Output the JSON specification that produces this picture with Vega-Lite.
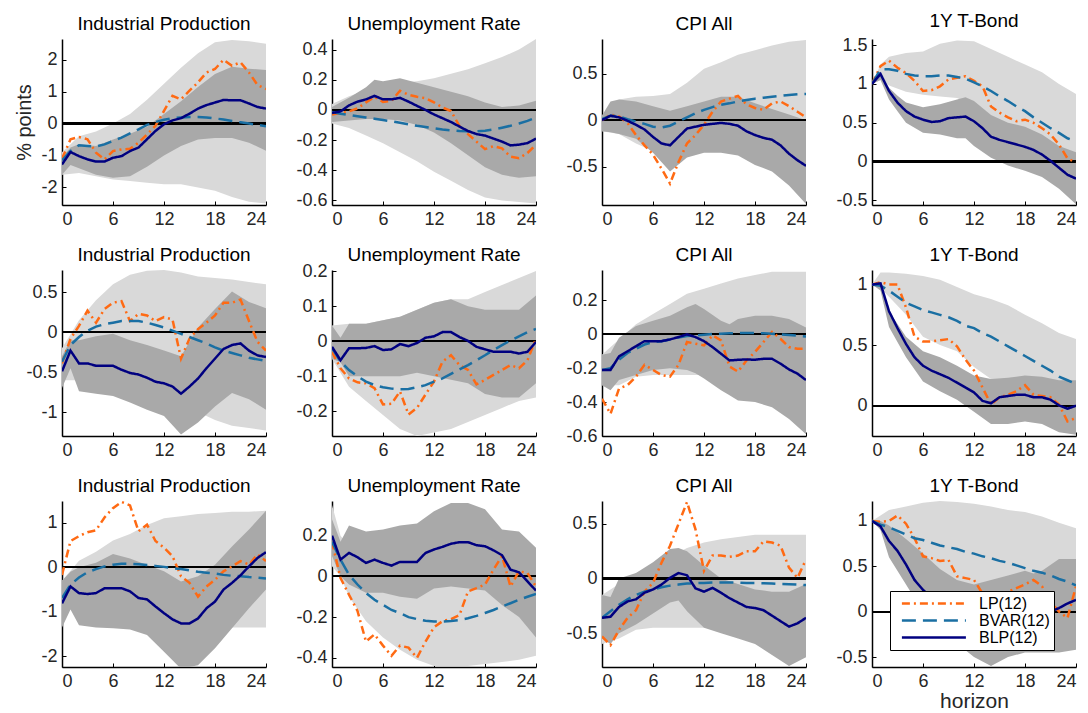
{
"$schema":"https://vega.github.io/schema/vega-lite/v6.json",
"background":"white",
"padding":{"left":14,"top":12,"right":5,"bottom":0},
"config":{
 "font":"Liberation Sans",
 "view":{"stroke":null},
 "locale":{"number":{"decimal":".","thousands":",","grouping":[3],"currency":["$",""],"minus":"-"}},
 "axis":{"domainColor":"black","domainWidth":1.5,"tickColor":"black","tickSize":-4,"tickWidth":1,"labelFontSize":18,"labelColor":"#262626","grid":false,"labelPadding":9,"labelOverlap":false,"titleFontWeight":"normal","titleColor":"#262626"},
 "title":{"fontSize":19,"fontWeight":"normal","color":"black","offset":5,"anchor":"middle"}
},
"spacing":{"row":65,"column":66},
"bounds":"flush",
"columns":4,
"resolve":{"scale":{"color":"independent","strokeDash":"independent"},"legend":{"color":"independent","strokeDash":"independent"}},
"data":{"values":[
{"p":1,"h":0,"LP":-1.1,"BVAR":-1.15,"BLP":-1.28,"a1":-1.6,"a2":-0.9,"d1":-1.6,"d2":-1.05},
{"p":1,"h":1,"LP":-0.49,"BVAR":-0.86,"BLP":-0.89,"d1":-1.3,"d2":-0.75},
{"p":1,"h":2,"LP":-0.42,"BVAR":-0.68,"BLP":-1.02,"a1":-1.55,"a2":-0.4,"d1":-1.4,"d2":-0.65},
{"p":1,"h":3,"LP":-0.49,"BVAR":-0.7,"BLP":-1.12},
{"p":1,"h":4,"LP":-0.91,"BVAR":-0.72,"BLP":-1.19,"a1":-1.65,"a2":-0.25,"d1":-1.6,"d2":-0.7},
{"p":1,"h":5,"LP":-1.12,"BVAR":-0.65,"BLP":-1.19},
{"p":1,"h":6,"LP":-0.86,"BVAR":-0.54,"BLP":-1.07,"a1":-1.75,"a2":0.0,"d1":-1.7,"d2":-0.5},
{"p":1,"h":7,"LP":-0.81,"BVAR":-0.44,"BLP":-1.02},
{"p":1,"h":8,"LP":-0.79,"BVAR":-0.31,"BLP":-0.86,"a1":-1.8,"a2":0.3,"d1":-1.65,"d2":-0.32},
{"p":1,"h":9,"LP":-0.6,"BVAR":-0.18,"BLP":-0.75},
{"p":1,"h":10,"LP":-0.34,"BVAR":-0.04,"BLP":-0.49,"a1":-1.85,"a2":0.75,"d1":-1.35,"d2":-0.1},
{"p":1,"h":11,"LP":-0.07,"BVAR":0.05,"BLP":-0.23},
{"p":1,"h":12,"LP":0.4,"BVAR":0.12,"BLP":-0.02,"a1":-1.9,"a2":1.25,"d1":-1.0,"d2":0.3},
{"p":1,"h":13,"LP":0.87,"BVAR":0.17,"BLP":0.1},
{"p":1,"h":14,"LP":0.76,"BVAR":0.19,"BLP":0.17,"a1":-1.9,"a2":1.75,"d1":-0.7,"d2":0.7},
{"p":1,"h":15,"LP":1.03,"BVAR":0.21,"BLP":0.31},
{"p":1,"h":16,"LP":1.29,"BVAR":0.21,"BLP":0.47,"a1":-2.0,"a2":2.2,"d1":-0.5,"d2":1.15},
{"p":1,"h":17,"LP":1.6,"BVAR":0.19,"BLP":0.58},
{"p":1,"h":18,"LP":1.71,"BVAR":0.16,"BLP":0.66,"a1":-2.1,"a2":2.55,"d1":-0.45,"d2":1.55},
{"p":1,"h":19,"LP":2.0,"BVAR":0.13,"BLP":0.74},
{"p":1,"h":20,"LP":1.81,"BVAR":0.08,"BLP":0.73,"a1":-2.3,"a2":2.62,"d1":-0.45,"d2":1.78},
{"p":1,"h":21,"LP":1.92,"BVAR":0.04,"BLP":0.73},
{"p":1,"h":22,"LP":1.6,"BVAR":0.0,"BLP":0.63,"a1":-2.45,"a2":2.58,"d1":-0.6,"d2":1.72},
{"p":1,"h":23,"LP":1.21,"BVAR":-0.04,"BLP":0.52},
{"p":1,"h":24,"LP":1.08,"BVAR":-0.08,"BLP":0.47,"a1":-2.5,"a2":2.5,"d1":-0.85,"d2":1.68},

{"p":2,"h":0,"LP":-0.03,"BVAR":-0.013,"BLP":-0.02,"a1":-0.09,"a2":0.04,"d1":-0.08,"d2":0.02},
{"p":2,"h":1,"LP":-0.02,"BVAR":-0.025,"BLP":-0.01},
{"p":2,"h":2,"LP":-0.01,"BVAR":-0.033,"BLP":0.03,"a1":-0.12,"a2":0.09,"d1":-0.07,"d2":0.08},
{"p":2,"h":3,"LP":0.01,"BVAR":-0.042,"BLP":0.055},
{"p":2,"h":4,"LP":0.05,"BVAR":-0.05,"BLP":0.07,"a1":-0.17,"a2":0.13,"d1":-0.06,"d2":0.15},
{"p":2,"h":5,"LP":0.087,"BVAR":-0.058,"BLP":0.093,"d1":-0.06,"d2":0.2},
{"p":2,"h":6,"LP":0.053,"BVAR":-0.067,"BLP":0.07,"a1":-0.22,"a2":0.16,"d1":-0.06,"d2":0.19},
{"p":2,"h":7,"LP":0.06,"BVAR":-0.075,"BLP":0.07},
{"p":2,"h":8,"LP":0.127,"BVAR":-0.085,"BLP":0.08,"a1":-0.28,"a2":0.18,"d1":-0.07,"d2":0.21},
{"p":2,"h":9,"LP":0.1,"BVAR":-0.095,"BLP":0.055},
{"p":2,"h":10,"LP":0.087,"BVAR":-0.105,"BLP":0.027,"a1":-0.34,"a2":0.19,"d1":-0.1,"d2":0.18},
{"p":2,"h":11,"LP":0.078,"BVAR":-0.113,"BLP":0.0},
{"p":2,"h":12,"LP":0.05,"BVAR":-0.122,"BLP":-0.03,"a1":-0.41,"a2":0.21,"d1":-0.15,"d2":0.15},
{"p":2,"h":13,"LP":0.016,"BVAR":-0.13,"BLP":-0.055},
{"p":2,"h":14,"LP":-0.007,"BVAR":-0.135,"BLP":-0.08,"a1":-0.47,"a2":0.24,"d1":-0.22,"d2":0.12},
{"p":2,"h":15,"LP":-0.107,"BVAR":-0.14,"BLP":-0.11},
{"p":2,"h":16,"LP":-0.16,"BVAR":-0.142,"BLP":-0.14,"a1":-0.53,"a2":0.27,"d1":-0.3,"d2":0.09},
{"p":2,"h":17,"LP":-0.21,"BVAR":-0.142,"BLP":-0.16},
{"p":2,"h":18,"LP":-0.26,"BVAR":-0.138,"BLP":-0.17,"a1":-0.58,"a2":0.31,"d1":-0.38,"d2":0.05},
{"p":2,"h":19,"LP":-0.24,"BVAR":-0.13,"BLP":-0.19},
{"p":2,"h":20,"LP":-0.255,"BVAR":-0.118,"BLP":-0.21,"a1":-0.6,"a2":0.35,"d1":-0.43,"d2":0.02},
{"p":2,"h":21,"LP":-0.31,"BVAR":-0.105,"BLP":-0.235},
{"p":2,"h":22,"LP":-0.32,"BVAR":-0.09,"BLP":-0.23,"a1":-0.61,"a2":0.4,"d1":-0.45,"d2":0.03},
{"p":2,"h":23,"LP":-0.285,"BVAR":-0.073,"BLP":-0.22},
{"p":2,"h":24,"LP":-0.23,"BVAR":-0.05,"BLP":-0.19,"a1":-0.62,"a2":0.47,"d1":-0.44,"d2":0.06},

{"p":3,"h":0,"LP":0.0,"BVAR":0.01,"BLP":0.0,"a1":-0.12,"a2":0.05,"d1":-0.12,"d2":0.05},
{"p":3,"h":1,"LP":0.06,"BVAR":0.047,"BLP":0.047,"d1":-0.13,"d2":0.2},
{"p":3,"h":2,"LP":0.04,"BVAR":0.04,"BLP":0.03,"a1":-0.15,"a2":0.22,"d1":-0.15,"d2":0.22},
{"p":3,"h":3,"LP":-0.03,"BVAR":0.01,"BLP":-0.007},
{"p":3,"h":4,"LP":-0.16,"BVAR":-0.015,"BLP":-0.05,"a1":-0.25,"a2":0.25,"d1":-0.2,"d2":0.2},
{"p":3,"h":5,"LP":-0.27,"BVAR":-0.04,"BLP":-0.1},
{"p":3,"h":6,"LP":-0.37,"BVAR":-0.07,"BLP":-0.18,"a1":-0.33,"a2":0.26,"d1":-0.35,"d2":0.15},
{"p":3,"h":7,"LP":-0.52,"BVAR":-0.08,"BLP":-0.25},
{"p":3,"h":8,"LP":-0.68,"BVAR":-0.06,"BLP":-0.27,"a1":-0.3,"a2":0.28,"d1":-0.55,"d2":0.1},
{"p":3,"h":9,"LP":-0.45,"BVAR":-0.015,"BLP":-0.18},
{"p":3,"h":10,"LP":-0.25,"BVAR":0.03,"BLP":-0.09,"a1":-0.25,"a2":0.4,"d1":-0.4,"d2":0.15},
{"p":3,"h":11,"LP":-0.16,"BVAR":0.075,"BLP":-0.07},
{"p":3,"h":12,"LP":-0.05,"BVAR":0.11,"BLP":-0.05,"a1":-0.2,"a2":0.55,"d1":-0.35,"d2":0.2},
{"p":3,"h":13,"LP":0.09,"BVAR":0.14,"BLP":-0.04},
{"p":3,"h":14,"LP":0.2,"BVAR":0.165,"BLP":-0.03,"a1":-0.15,"a2":0.62,"d1":-0.35,"d2":0.25},
{"p":3,"h":15,"LP":0.23,"BVAR":0.18,"BLP":-0.04},
{"p":3,"h":16,"LP":0.26,"BVAR":0.2,"BLP":-0.06,"a1":-0.12,"a2":0.7,"d1":-0.38,"d2":0.25},
{"p":3,"h":17,"LP":0.17,"BVAR":0.215,"BLP":-0.12},
{"p":3,"h":18,"LP":0.13,"BVAR":0.23,"BLP":-0.16,"a1":-0.1,"a2":0.75,"d1":-0.48,"d2":0.18},
{"p":3,"h":19,"LP":0.11,"BVAR":0.24,"BLP":-0.19},
{"p":3,"h":20,"LP":0.18,"BVAR":0.25,"BLP":-0.21,"a1":-0.08,"a2":0.8,"d1":-0.55,"d2":0.12},
{"p":3,"h":21,"LP":0.2,"BVAR":0.26,"BLP":-0.27},
{"p":3,"h":22,"LP":0.15,"BVAR":0.27,"BLP":-0.36,"a1":-0.07,"a2":0.84,"d1":-0.7,"d2":0.06},
{"p":3,"h":23,"LP":0.09,"BVAR":0.277,"BLP":-0.43},
{"p":3,"h":24,"LP":0.03,"BVAR":0.28,"BLP":-0.49,"a1":-0.08,"a2":0.86,"d1":-0.9,"d2":0.0},

{"p":4,"h":0,"LP":1.0,"BVAR":1.0,"BLP":1.0,"a1":1.0,"a2":1.0,"d1":1.0,"d2":1.0},
{"p":4,"h":1,"LP":1.23,"BVAR":1.19,"BLP":1.13,"a1":1.05,"a2":1.25,"d1":1.05,"d2":1.12},
{"p":4,"h":2,"LP":1.3,"BVAR":1.19,"BLP":0.91,"a1":0.98,"a2":1.35,"d1":0.8,"d2":0.95},
{"p":4,"h":3,"LP":1.21,"BVAR":1.17,"BLP":0.76,"d1":0.65,"d2":0.85},
{"p":4,"h":4,"LP":1.14,"BVAR":1.13,"BLP":0.65,"a1":0.9,"a2":1.4,"d1":0.5,"d2":0.76},
{"p":4,"h":5,"LP":1.04,"BVAR":1.11,"BLP":0.58},
{"p":4,"h":6,"LP":0.91,"BVAR":1.1,"BLP":0.54,"a1":0.86,"a2":1.42,"d1":0.37,"d2":0.7},
{"p":4,"h":7,"LP":0.92,"BVAR":1.1,"BLP":0.51},
{"p":4,"h":8,"LP":0.97,"BVAR":1.11,"BLP":0.52,"a1":0.84,"a2":1.52,"d1":0.35,"d2":0.74},
{"p":4,"h":9,"LP":1.06,"BVAR":1.11,"BLP":0.56},
{"p":4,"h":10,"LP":1.08,"BVAR":1.09,"BLP":0.57,"a1":0.82,"a2":1.56,"d1":0.3,"d2":0.8},
{"p":4,"h":11,"LP":1.1,"BVAR":1.07,"BLP":0.58,"d1":0.3,"d2":0.83},
{"p":4,"h":12,"LP":1.04,"BVAR":1.02,"BLP":0.52,"a1":0.72,"a2":1.55,"d1":0.2,"d2":0.78},
{"p":4,"h":13,"LP":0.97,"BVAR":0.97,"BLP":0.43},
{"p":4,"h":14,"LP":0.71,"BVAR":0.91,"BLP":0.32,"a1":0.55,"a2":1.45,"d1":0.05,"d2":0.6},
{"p":4,"h":15,"LP":0.63,"BVAR":0.84,"BLP":0.28},
{"p":4,"h":16,"LP":0.57,"BVAR":0.78,"BLP":0.25,"a1":0.42,"a2":1.35,"d1":-0.05,"d2":0.5},
{"p":4,"h":17,"LP":0.52,"BVAR":0.71,"BLP":0.22},
{"p":4,"h":18,"LP":0.54,"BVAR":0.65,"BLP":0.19,"a1":0.35,"a2":1.25,"d1":-0.12,"d2":0.45},
{"p":4,"h":19,"LP":0.5,"BVAR":0.57,"BLP":0.15},
{"p":4,"h":20,"LP":0.43,"BVAR":0.5,"BLP":0.09,"a1":0.27,"a2":1.15,"d1":-0.2,"d2":0.35},
{"p":4,"h":21,"LP":0.35,"BVAR":0.43,"BLP":0.01},
{"p":4,"h":22,"LP":0.22,"BVAR":0.37,"BLP":-0.08,"a1":0.17,"a2":1.0,"d1":-0.35,"d2":0.2},
{"p":4,"h":23,"LP":0.04,"BVAR":0.3,"BLP":-0.17},
{"p":4,"h":24,"LP":-0.01,"BVAR":0.26,"BLP":-0.22,"a1":0.1,"a2":0.87,"d1":-0.55,"d2":0.12},

{"p":5,"h":0,"LP":-0.39,"BVAR":-0.37,"BLP":-0.49,"a1":-0.6,"a2":-0.2,"d1":-0.7,"d2":-0.3},
{"p":5,"h":1,"LP":-0.08,"BVAR":-0.16,"BLP":-0.23,"d1":-0.45,"d2":-0.1},
{"p":5,"h":2,"LP":0.08,"BVAR":-0.06,"BLP":-0.39,"a1":-0.6,"a2":0.15,"d1":-0.74,"d2":-0.1},
{"p":5,"h":3,"LP":0.27,"BVAR":0.02,"BLP":-0.39},
{"p":5,"h":4,"LP":0.12,"BVAR":0.07,"BLP":-0.42,"a1":-0.6,"a2":0.4,"d1":-0.77,"d2":-0.05},
{"p":5,"h":5,"LP":0.29,"BVAR":0.1,"BLP":-0.42},
{"p":5,"h":6,"LP":0.37,"BVAR":0.12,"BLP":-0.42,"a1":-0.65,"a2":0.6,"d1":-0.8,"d2":-0.02},
{"p":5,"h":7,"LP":0.39,"BVAR":0.14,"BLP":-0.47},
{"p":5,"h":8,"LP":0.14,"BVAR":0.14,"BLP":-0.51,"a1":-0.7,"a2":0.72,"d1":-0.88,"d2":-0.1},
{"p":5,"h":9,"LP":0.23,"BVAR":0.14,"BLP":-0.53},
{"p":5,"h":10,"LP":0.21,"BVAR":0.12,"BLP":-0.57,"a1":-0.75,"a2":0.77,"d1":-0.97,"d2":-0.16},
{"p":5,"h":11,"LP":0.14,"BVAR":0.09,"BLP":-0.62},
{"p":5,"h":12,"LP":0.19,"BVAR":0.06,"BLP":-0.64,"a1":-0.8,"a2":0.78,"d1":-1.05,"d2":-0.23},
{"p":5,"h":13,"LP":0.16,"BVAR":0.02,"BLP":-0.68},
{"p":5,"h":14,"LP":-0.33,"BVAR":-0.02,"BLP":-0.77,"a1":-0.85,"a2":0.75,"d1":-1.28,"d2":-0.3},
{"p":5,"h":15,"LP":-0.08,"BVAR":-0.06,"BLP":-0.68},
{"p":5,"h":16,"LP":0.04,"BVAR":-0.1,"BLP":-0.58,"a1":-1.0,"a2":0.7,"d1":-1.13,"d2":0.06},
{"p":5,"h":17,"LP":0.12,"BVAR":-0.14,"BLP":-0.45},
{"p":5,"h":18,"LP":0.21,"BVAR":-0.19,"BLP":-0.33,"a1":-1.1,"a2":0.68,"d1":-0.93,"d2":0.29},
{"p":5,"h":19,"LP":0.37,"BVAR":-0.23,"BLP":-0.21},
{"p":5,"h":20,"LP":0.37,"BVAR":-0.26,"BLP":-0.16,"a1":-1.17,"a2":0.66,"d1":-0.76,"d2":0.51},
{"p":5,"h":21,"LP":0.41,"BVAR":-0.29,"BLP":-0.14},
{"p":5,"h":22,"LP":0.14,"BVAR":-0.32,"BLP":-0.23,"a1":-1.2,"a2":0.63,"d1":-0.84,"d2":0.38},
{"p":5,"h":23,"LP":-0.12,"BVAR":-0.34,"BLP":-0.29},
{"p":5,"h":24,"LP":-0.23,"BVAR":-0.36,"BLP":-0.31,"a1":-1.23,"a2":0.6,"d1":-0.97,"d2":0.3},

{"p":6,"h":0,"LP":-0.03,"BVAR":-0.02,"BLP":-0.016,"a1":-0.05,"a2":0.045,"d1":-0.05,"d2":0.045},
{"p":6,"h":1,"LP":-0.077,"BVAR":-0.058,"BLP":-0.054,"d1":-0.06,"d2":0.01},
{"p":6,"h":2,"LP":-0.106,"BVAR":-0.082,"BLP":-0.02,"a1":-0.13,"a2":0.05,"d1":-0.1,"d2":0.05},
{"p":6,"h":3,"LP":-0.117,"BVAR":-0.1,"BLP":-0.02},
{"p":6,"h":4,"LP":-0.12,"BVAR":-0.115,"BLP":-0.019,"a1":-0.17,"a2":0.05,"d1":-0.1,"d2":0.05},
{"p":6,"h":5,"LP":-0.134,"BVAR":-0.125,"BLP":-0.014},
{"p":6,"h":6,"LP":-0.18,"BVAR":-0.131,"BLP":-0.025,"a1":-0.21,"a2":0.06,"d1":-0.1,"d2":0.06},
{"p":6,"h":7,"LP":-0.178,"BVAR":-0.135,"BLP":-0.023},
{"p":6,"h":8,"LP":-0.143,"BVAR":-0.137,"BLP":-0.008,"a1":-0.25,"a2":0.07,"d1":-0.1,"d2":0.07},
{"p":6,"h":9,"LP":-0.209,"BVAR":-0.136,"BLP":-0.014},
{"p":6,"h":10,"LP":-0.19,"BVAR":-0.131,"BLP":-0.005,"a1":-0.27,"a2":0.09,"d1":-0.09,"d2":0.09},
{"p":6,"h":11,"LP":-0.152,"BVAR":-0.125,"BLP":0.01},
{"p":6,"h":12,"LP":-0.115,"BVAR":-0.115,"BLP":0.014,"a1":-0.26,"a2":0.11,"d1":-0.1,"d2":0.11},
{"p":6,"h":13,"LP":-0.058,"BVAR":-0.106,"BLP":0.026},
{"p":6,"h":14,"LP":-0.04,"BVAR":-0.093,"BLP":0.026,"a1":-0.25,"a2":0.12,"d1":-0.11,"d2":0.12},
{"p":6,"h":15,"LP":-0.068,"BVAR":-0.08,"BLP":0.012},
{"p":6,"h":16,"LP":-0.082,"BVAR":-0.068,"BLP":0.001,"a1":-0.23,"a2":0.12,"d1":-0.12,"d2":0.1},
{"p":6,"h":17,"LP":-0.123,"BVAR":-0.054,"BLP":-0.016},
{"p":6,"h":18,"LP":-0.11,"BVAR":-0.04,"BLP":-0.023,"a1":-0.21,"a2":0.14,"d1":-0.15,"d2":0.09},
{"p":6,"h":19,"LP":-0.096,"BVAR":-0.025,"BLP":-0.03},
{"p":6,"h":20,"LP":-0.082,"BVAR":-0.011,"BLP":-0.03,"a1":-0.19,"a2":0.16,"d1":-0.16,"d2":0.09},
{"p":6,"h":21,"LP":-0.068,"BVAR":0.002,"BLP":-0.03},
{"p":6,"h":22,"LP":-0.077,"BVAR":0.014,"BLP":-0.035,"a1":-0.17,"a2":0.18,"d1":-0.16,"d2":0.09},
{"p":6,"h":23,"LP":-0.054,"BVAR":0.026,"BLP":-0.03},
{"p":6,"h":24,"LP":0.008,"BVAR":0.035,"BLP":-0.002,"a1":-0.16,"a2":0.2,"d1":-0.12,"d2":0.13},

{"p":7,"h":0,"LP":-0.38,"BVAR":-0.21,"BLP":-0.21,"a1":-0.3,"a2":-0.12,"d1":-0.3,"d2":-0.12},
{"p":7,"h":1,"LP":-0.47,"BVAR":-0.2,"BLP":-0.21,"d1":-0.33,"d2":-0.11},
{"p":7,"h":2,"LP":-0.32,"BVAR":-0.15,"BLP":-0.13,"a1":-0.3,"a2":-0.03,"d1":-0.27,"d2":-0.02},
{"p":7,"h":3,"LP":-0.3,"BVAR":-0.11,"BLP":-0.1},
{"p":7,"h":4,"LP":-0.25,"BVAR":-0.085,"BLP":-0.07,"a1":-0.25,"a2":0.06,"d1":-0.24,"d2":0.05},
{"p":7,"h":5,"LP":-0.18,"BVAR":-0.06,"BLP":-0.04},
{"p":7,"h":6,"LP":-0.21,"BVAR":-0.045,"BLP":-0.04,"a1":-0.24,"a2":0.12,"d1":-0.21,"d2":0.08},
{"p":7,"h":7,"LP":-0.24,"BVAR":-0.04,"BLP":-0.04},
{"p":7,"h":8,"LP":-0.25,"BVAR":-0.03,"BLP":-0.03,"a1":-0.24,"a2":0.18,"d1":-0.2,"d2":0.11},
{"p":7,"h":9,"LP":-0.18,"BVAR":-0.018,"BLP":-0.016},
{"p":7,"h":10,"LP":-0.045,"BVAR":-0.01,"BLP":0.0,"a1":-0.24,"a2":0.24,"d1":-0.21,"d2":0.16},
{"p":7,"h":11,"LP":-0.055,"BVAR":-0.006,"BLP":-0.016,"d1":-0.23,"d2":0.18},
{"p":7,"h":12,"LP":-0.065,"BVAR":-0.002,"BLP":-0.04,"a1":-0.24,"a2":0.27,"d1":-0.26,"d2":0.15},
{"p":7,"h":13,"LP":-0.006,"BVAR":0.002,"BLP":-0.075},
{"p":7,"h":14,"LP":-0.035,"BVAR":0.004,"BLP":-0.114,"a1":-0.24,"a2":0.3,"d1":-0.33,"d2":0.08},
{"p":7,"h":15,"LP":-0.19,"BVAR":0.006,"BLP":-0.154,"d1":-0.36,"d2":0.06},
{"p":7,"h":16,"LP":-0.22,"BVAR":0.008,"BLP":-0.15,"a1":-0.24,"a2":0.33,"d1":-0.39,"d2":0.09},
{"p":7,"h":17,"LP":-0.154,"BVAR":0.008,"BLP":-0.148},
{"p":7,"h":18,"LP":-0.104,"BVAR":0.008,"BLP":-0.15,"a1":-0.24,"a2":0.35,"d1":-0.4,"d2":0.11},
{"p":7,"h":19,"LP":-0.045,"BVAR":0.006,"BLP":-0.144},
{"p":7,"h":20,"LP":0.014,"BVAR":0.004,"BLP":-0.144,"a1":-0.24,"a2":0.37,"d1":-0.43,"d2":0.11},
{"p":7,"h":21,"LP":-0.026,"BVAR":0.0,"BLP":-0.173},
{"p":7,"h":22,"LP":-0.075,"BVAR":-0.004,"BLP":-0.207,"a1":-0.24,"a2":0.37,"d1":-0.5,"d2":0.09},
{"p":7,"h":23,"LP":-0.085,"BVAR":-0.008,"BLP":-0.232},
{"p":7,"h":24,"LP":-0.085,"BVAR":-0.012,"BLP":-0.27,"a1":-0.24,"a2":0.37,"d1":-0.59,"d2":0.04},

{"p":8,"h":0,"LP":1.0,"BVAR":1.0,"BLP":1.0,"a1":1.0,"a2":1.0,"d1":1.0,"d2":1.0},
{"p":8,"h":1,"LP":1.02,"BVAR":0.99,"BLP":1.01,"a1":0.97,"a2":1.1,"d1":0.95,"d2":1.02},
{"p":8,"h":2,"LP":1.0,"BVAR":0.95,"BLP":0.78,"a1":0.9,"a2":1.1,"d1":0.65,"d2":0.78},
{"p":8,"h":3,"LP":1.0,"BVAR":0.9,"BLP":0.64},
{"p":8,"h":4,"LP":0.81,"BVAR":0.85,"BLP":0.51,"a1":0.75,"a2":1.09,"d1":0.4,"d2":0.57},
{"p":8,"h":5,"LP":0.57,"BVAR":0.82,"BLP":0.4},
{"p":8,"h":6,"LP":0.53,"BVAR":0.79,"BLP":0.33,"a1":0.57,"a2":1.07,"d1":0.2,"d2":0.45},
{"p":8,"h":7,"LP":0.53,"BVAR":0.77,"BLP":0.29},
{"p":8,"h":8,"LP":0.54,"BVAR":0.75,"BLP":0.26,"a1":0.5,"a2":1.04,"d1":0.12,"d2":0.4},
{"p":8,"h":9,"LP":0.55,"BVAR":0.73,"BLP":0.23},
{"p":8,"h":10,"LP":0.49,"BVAR":0.7,"BLP":0.19,"a1":0.45,"a2":0.98,"d1":0.05,"d2":0.33},
{"p":8,"h":11,"LP":0.38,"BVAR":0.66,"BLP":0.15},
{"p":8,"h":12,"LP":0.29,"BVAR":0.64,"BLP":0.11,"a1":0.32,"a2":0.92,"d1":-0.05,"d2":0.25},
{"p":8,"h":13,"LP":0.15,"BVAR":0.6,"BLP":0.04},
{"p":8,"h":14,"LP":0.01,"BVAR":0.57,"BLP":0.02,"a1":0.22,"a2":0.88,"d1":-0.15,"d2":0.22},
{"p":8,"h":15,"LP":0.07,"BVAR":0.53,"BLP":0.07},
{"p":8,"h":16,"LP":0.09,"BVAR":0.49,"BLP":0.08,"a1":0.2,"a2":0.83,"d1":-0.15,"d2":0.23},
{"p":8,"h":17,"LP":0.12,"BVAR":0.45,"BLP":0.09},
{"p":8,"h":18,"LP":0.17,"BVAR":0.41,"BLP":0.09,"a1":0.2,"a2":0.75,"d1":-0.13,"d2":0.25},
{"p":8,"h":19,"LP":0.09,"BVAR":0.37,"BLP":0.07},
{"p":8,"h":20,"LP":0.08,"BVAR":0.33,"BLP":0.07,"a1":0.2,"a2":0.68,"d1":-0.15,"d2":0.24},
{"p":8,"h":21,"LP":0.07,"BVAR":0.29,"BLP":0.05},
{"p":8,"h":22,"LP":0.01,"BVAR":0.24,"BLP":0.003,"a1":0.2,"a2":0.6,"d1":-0.22,"d2":0.21},
{"p":8,"h":23,"LP":-0.13,"BVAR":0.21,"BLP":-0.025},
{"p":8,"h":24,"LP":-0.1,"BVAR":0.18,"BLP":0.0,"a1":0.2,"a2":0.55,"d1":-0.24,"d2":0.21},

{"p":9,"h":0,"LP":-0.17,"BVAR":-0.69,"BLP":-0.81,"a1":-0.6,"a2":-0.3,"d1":-1.35,"d2":-0.3},
{"p":9,"h":1,"LP":0.59,"BVAR":-0.39,"BLP":-0.43,"d1":-0.95,"d2":-0.1},
{"p":9,"h":2,"LP":0.7,"BVAR":-0.23,"BLP":-0.58,"a1":-0.45,"a2":0.15,"d1":-1.3,"d2":0.0},
{"p":9,"h":3,"LP":0.79,"BVAR":-0.11,"BLP":-0.6},
{"p":9,"h":4,"LP":0.83,"BVAR":-0.04,"BLP":-0.58,"a1":-0.3,"a2":0.35,"d1":-1.35,"d2":0.1},
{"p":9,"h":5,"LP":1.12,"BVAR":0.02,"BLP":-0.47},
{"p":9,"h":6,"LP":1.33,"BVAR":0.06,"BLP":-0.47,"a1":-0.2,"a2":0.6,"d1":-1.37,"d2":0.3},
{"p":9,"h":7,"LP":1.47,"BVAR":0.08,"BLP":-0.47},
{"p":9,"h":8,"LP":1.39,"BVAR":0.08,"BLP":-0.54,"a1":-0.1,"a2":0.75,"d1":-1.4,"d2":0.2},
{"p":9,"h":9,"LP":0.81,"BVAR":0.07,"BLP":-0.69},
{"p":9,"h":10,"LP":0.96,"BVAR":0.05,"BLP":-0.72,"a1":-0.15,"a2":0.95,"d1":-1.52,"d2":0.05},
{"p":9,"h":11,"LP":0.59,"BVAR":0.03,"BLP":-0.88},
{"p":9,"h":12,"LP":0.44,"BVAR":0.01,"BLP":-1.03,"a1":-0.25,"a2":1.1,"d1":-1.9,"d2":-0.09},
{"p":9,"h":13,"LP":0.25,"BVAR":-0.02,"BLP":-1.17},
{"p":9,"h":14,"LP":-0.2,"BVAR":-0.04,"BLP":-1.26,"a1":-0.35,"a2":1.15,"d1":-2.28,"d2":-0.32},
{"p":9,"h":15,"LP":-0.35,"BVAR":-0.07,"BLP":-1.26},
{"p":9,"h":16,"LP":-0.66,"BVAR":-0.1,"BLP":-1.15,"a1":-0.55,"a2":1.2,"d1":-2.2,"d2":-0.2},
{"p":9,"h":17,"LP":-0.43,"BVAR":-0.12,"BLP":-0.92},
{"p":9,"h":18,"LP":-0.28,"BVAR":-0.14,"BLP":-0.77,"a1":-1.0,"a2":1.22,"d1":-1.82,"d2":0.06},
{"p":9,"h":19,"LP":-0.09,"BVAR":-0.17,"BLP":-0.5},
{"p":9,"h":20,"LP":0.02,"BVAR":-0.19,"BLP":-0.35,"a1":-1.35,"a2":1.25,"d1":-1.37,"d2":0.47},
{"p":9,"h":21,"LP":0.14,"BVAR":-0.2,"BLP":-0.18},
{"p":9,"h":22,"LP":0.06,"BVAR":-0.22,"BLP":0.02,"a1":-1.35,"a2":1.25,"d1":-0.92,"d2":0.85},
{"p":9,"h":23,"LP":0.29,"BVAR":-0.23,"BLP":0.21},
{"p":9,"h":24,"LP":0.14,"BVAR":-0.25,"BLP":0.34,"a1":-1.35,"a2":1.27,"d1":-0.5,"d2":1.27},

{"p":10,"h":0,"LP":0.17,"BVAR":0.17,"BLP":0.2,"a1":0.05,"a2":0.35,"d1":0.1,"d2":0.28},
{"p":10,"h":1,"LP":-0.008,"BVAR":0.082,"BLP":0.082,"a1":0.0,"a2":0.2,"d1":0.0,"d2":0.17},
{"p":10,"h":2,"LP":-0.09,"BVAR":0.008,"BLP":0.115,"a1":-0.1,"a2":0.15,"d1":-0.04,"d2":0.25},
{"p":10,"h":3,"LP":-0.17,"BVAR":-0.04,"BLP":0.094},
{"p":10,"h":4,"LP":-0.32,"BVAR":-0.082,"BLP":0.066,"a1":-0.22,"a2":0.1,"d1":-0.08,"d2":0.22},
{"p":10,"h":5,"LP":-0.285,"BVAR":-0.115,"BLP":0.082},
{"p":10,"h":6,"LP":-0.34,"BVAR":-0.14,"BLP":0.066,"a1":-0.3,"a2":0.08,"d1":-0.08,"d2":0.23},
{"p":10,"h":7,"LP":-0.39,"BVAR":-0.165,"BLP":0.053},
{"p":10,"h":8,"LP":-0.34,"BVAR":-0.18,"BLP":0.071,"a1":-0.36,"a2":0.06,"d1":-0.1,"d2":0.25},
{"p":10,"h":9,"LP":-0.35,"BVAR":-0.2,"BLP":0.071},
{"p":10,"h":10,"LP":-0.4,"BVAR":-0.21,"BLP":0.071,"a1":-0.41,"a2":0.05,"d1":-0.11,"d2":0.26},
{"p":10,"h":11,"LP":-0.32,"BVAR":-0.218,"BLP":0.115},
{"p":10,"h":12,"LP":-0.25,"BVAR":-0.222,"BLP":0.132,"a1":-0.44,"a2":0.05,"d1":-0.06,"d2":0.32},
{"p":10,"h":13,"LP":-0.22,"BVAR":-0.222,"BLP":0.145},
{"p":10,"h":14,"LP":-0.21,"BVAR":-0.219,"BLP":0.16,"a1":-0.44,"a2":0.05,"d1":-0.05,"d2":0.36},
{"p":10,"h":15,"LP":-0.19,"BVAR":-0.214,"BLP":0.168},
{"p":10,"h":16,"LP":-0.074,"BVAR":-0.206,"BLP":0.168,"a1":-0.44,"a2":0.05,"d1":-0.06,"d2":0.36},
{"p":10,"h":17,"LP":-0.058,"BVAR":-0.194,"BLP":0.153},
{"p":10,"h":18,"LP":-0.04,"BVAR":-0.18,"BLP":0.148,"a1":-0.43,"a2":0.05,"d1":-0.07,"d2":0.33},
{"p":10,"h":19,"LP":0.033,"BVAR":-0.165,"BLP":0.128},
{"p":10,"h":20,"LP":0.1,"BVAR":-0.148,"BLP":0.104,"a1":-0.42,"a2":0.0,"d1":-0.14,"d2":0.23},
{"p":10,"h":21,"LP":-0.05,"BVAR":-0.132,"BLP":0.033},
{"p":10,"h":22,"LP":0.025,"BVAR":-0.115,"BLP":0.02,"a1":-0.41,"a2":-0.05,"d1":-0.2,"d2":0.22},
{"p":10,"h":23,"LP":0.016,"BVAR":-0.1,"BLP":-0.025},
{"p":10,"h":24,"LP":-0.05,"BVAR":-0.086,"BLP":-0.07,"a1":-0.39,"a2":-0.1,"d1":-0.3,"d2":0.14},

{"p":11,"h":0,"LP":-0.53,"BVAR":-0.36,"BLP":-0.36,"a1":-0.6,"a2":-0.15,"d1":-0.55,"d2":-0.15},
{"p":11,"h":1,"LP":-0.61,"BVAR":-0.3,"BLP":-0.35,"d1":-0.6,"d2":-0.17},
{"p":11,"h":2,"LP":-0.47,"BVAR":-0.24,"BLP":-0.26,"a1":-0.55,"a2":-0.05,"d1":-0.5,"d2":0.0},
{"p":11,"h":3,"LP":-0.36,"BVAR":-0.19,"BLP":-0.21},
{"p":11,"h":4,"LP":-0.29,"BVAR":-0.15,"BLP":-0.19,"a1":-0.47,"a2":0.05,"d1":-0.42,"d2":0.05},
{"p":11,"h":5,"LP":-0.12,"BVAR":-0.12,"BLP":-0.13},
{"p":11,"h":6,"LP":-0.04,"BVAR":-0.1,"BLP":-0.1,"a1":-0.45,"a2":0.12,"d1":-0.32,"d2":0.15},
{"p":11,"h":7,"LP":0.145,"BVAR":-0.08,"BLP":-0.055},
{"p":11,"h":8,"LP":0.3,"BVAR":-0.065,"BLP":0.006,"a1":-0.45,"a2":0.2,"d1":-0.22,"d2":0.27},
{"p":11,"h":9,"LP":0.5,"BVAR":-0.055,"BLP":0.05,"d1":-0.2,"d2":0.28},
{"p":11,"h":10,"LP":0.7,"BVAR":-0.046,"BLP":0.03,"a1":-0.45,"a2":0.28,"d1":-0.3,"d2":0.25},
{"p":11,"h":11,"LP":0.45,"BVAR":-0.043,"BLP":-0.09},
{"p":11,"h":12,"LP":0.07,"BVAR":-0.04,"BLP":-0.12,"a1":-0.45,"a2":0.33,"d1":-0.45,"d2":0.12},
{"p":11,"h":13,"LP":0.21,"BVAR":-0.037,"BLP":-0.086},
{"p":11,"h":14,"LP":0.21,"BVAR":-0.037,"BLP":-0.13,"a1":-0.45,"a2":0.36,"d1":-0.5,"d2":0.0},
{"p":11,"h":15,"LP":0.2,"BVAR":-0.037,"BLP":-0.18},
{"p":11,"h":16,"LP":0.21,"BVAR":-0.037,"BLP":-0.22,"a1":-0.45,"a2":0.38,"d1":-0.55,"d2":-0.05},
{"p":11,"h":17,"LP":0.25,"BVAR":-0.04,"BLP":-0.26},
{"p":11,"h":18,"LP":0.25,"BVAR":-0.04,"BLP":-0.27,"a1":-0.45,"a2":0.4,"d1":-0.6,"d2":-0.1},
{"p":11,"h":19,"LP":0.34,"BVAR":-0.043,"BLP":-0.29},
{"p":11,"h":20,"LP":0.33,"BVAR":-0.046,"BLP":-0.34,"a1":-0.45,"a2":0.4,"d1":-0.7,"d2":-0.12},
{"p":11,"h":21,"LP":0.3,"BVAR":-0.05,"BLP":-0.39},
{"p":11,"h":22,"LP":0.1,"BVAR":-0.052,"BLP":-0.44,"a1":-0.45,"a2":0.4,"d1":-0.8,"d2":-0.12},
{"p":11,"h":23,"LP":0.006,"BVAR":-0.055,"BLP":-0.41},
{"p":11,"h":24,"LP":0.175,"BVAR":-0.06,"BLP":-0.36,"a1":-0.45,"a2":0.4,"d1":-0.72,"d2":-0.05},

{"p":12,"h":0,"LP":1.0,"BVAR":1.0,"BLP":1.0,"a1":1.0,"a2":1.0,"d1":1.0,"d2":1.0},
{"p":12,"h":1,"LP":0.99,"BVAR":0.96,"BLP":0.94,"d1":0.9,"d2":1.0},
{"p":12,"h":2,"LP":1.0,"BVAR":0.93,"BLP":0.78,"a1":0.85,"a2":1.12,"d1":0.6,"d2":0.95},
{"p":12,"h":3,"LP":1.06,"BVAR":0.89,"BLP":0.67},
{"p":12,"h":4,"LP":0.97,"BVAR":0.85,"BLP":0.52,"a1":0.7,"a2":1.16,"d1":0.3,"d2":0.8},
{"p":12,"h":5,"LP":0.81,"BVAR":0.81,"BLP":0.35},
{"p":12,"h":6,"LP":0.61,"BVAR":0.79,"BLP":0.24,"a1":0.55,"a2":1.2,"d1":0.0,"d2":0.64},
{"p":12,"h":7,"LP":0.59,"BVAR":0.76,"BLP":0.16},
{"p":12,"h":8,"LP":0.56,"BVAR":0.73,"BLP":0.1,"a1":0.4,"a2":1.22,"d1":-0.2,"d2":0.47},
{"p":12,"h":9,"LP":0.57,"BVAR":0.71,"BLP":0.06},
{"p":12,"h":10,"LP":0.39,"BVAR":0.69,"BLP":0.03,"a1":0.3,"a2":1.21,"d1":-0.35,"d2":0.35},
{"p":12,"h":11,"LP":0.37,"BVAR":0.66,"BLP":0.0},
{"p":12,"h":12,"LP":0.35,"BVAR":0.64,"BLP":-0.02,"a1":0.25,"a2":1.19,"d1":-0.5,"d2":0.3},
{"p":12,"h":13,"LP":0.2,"BVAR":0.61,"BLP":-0.03},
{"p":12,"h":14,"LP":0.08,"BVAR":0.59,"BLP":-0.03,"a1":0.25,"a2":1.16,"d1":-0.6,"d2":0.35},
{"p":12,"h":15,"LP":0.12,"BVAR":0.56,"BLP":-0.02},
{"p":12,"h":16,"LP":0.22,"BVAR":0.54,"BLP":-0.01,"a1":0.3,"a2":1.12,"d1":-0.5,"d2":0.4},
{"p":12,"h":17,"LP":0.26,"BVAR":0.51,"BLP":0.0},
{"p":12,"h":18,"LP":0.3,"BVAR":0.48,"BLP":0.0,"a1":0.35,"a2":1.1,"d1":-0.45,"d2":0.45},
{"p":12,"h":19,"LP":0.35,"BVAR":0.45,"BLP":-0.01,"d1":-0.45,"d2":0.42},
{"p":12,"h":20,"LP":0.28,"BVAR":0.43,"BLP":-0.01,"a1":0.35,"a2":1.05,"d1":-0.45,"d2":0.45},
{"p":12,"h":21,"LP":0.11,"BVAR":0.4,"BLP":0.0},
{"p":12,"h":22,"LP":0.0,"BVAR":0.36,"BLP":0.04,"a1":0.4,"a2":0.98,"d1":-0.45,"d2":0.58},
{"p":12,"h":23,"LP":-0.07,"BVAR":0.33,"BLP":0.09},
{"p":12,"h":24,"LP":0.28,"BVAR":0.29,"BLP":0.13,"a1":0.45,"a2":0.92,"d1":-0.42,"d2":0.58}
]},
"concat":[
{"width":204,"height":166,"title":"Industrial Production","transform":[{"filter":"datum.p==1"}],"layer":[
 {"transform":[{"filter":"isValid(datum.a1)"}],"mark":{"type":"area","color":"#d9d9d9","clip":true},"encoding":{"x":{"field":"h","type":"quantitative"},"y":{"field":"a1","type":"quantitative"},"y2":{"field":"a2"}}},
 {"transform":[{"filter":"isValid(datum.d1)"}],"mark":{"type":"area","color":"#a9a9a9","clip":true},"encoding":{"x":{"field":"h","type":"quantitative"},"y":{"field":"d1","type":"quantitative"},"y2":{"field":"d2"}}},
 {"mark":{"type":"rule","color":"black","strokeWidth":1.5},"encoding":{"y":{"datum":0,"type":"quantitative"}}},
 {"transform":[{"fold":["LP","BVAR","BLP"],"as":["s","v"]}],"mark":{"type":"line","strokeWidth":2.5,"clip":true},"encoding":{
  "x":{"field":"h","type":"quantitative","scale":{"domain":[0,24],"nice":false},"axis":{"values":[0,6,12,18,24],"tickCount":10,"title":null,"labelOverlap":false}},
  "y":{"field":"v","type":"quantitative","scale":{"domain":[-2.55,2.65],"nice":false,"zero":false},"axis":{"values":[-2,-1,0,1,2],"tickCount":10,"format":"~g","labelOverlap":false,"title":"% points","titleFontSize":20,"titlePadding":6,"titleColor":"#262626"}},
  "color":{"field":"s","type":"nominal","scale":{"domain":["LP","BVAR","BLP"],"range":["#ff6a13","#1a6fa3","#000080"]},"legend":null},
  "strokeDash":{"field":"s","type":"nominal","scale":{"domain":["LP","BVAR","BLP"],"range":[[8,4,2,4],[14,7],[1,0]]},"legend":null}}}
]},
{"width":204,"height":166,"title":"Unemployment Rate","transform":[{"filter":"datum.p==2"}],"layer":[
 {"transform":[{"filter":"isValid(datum.a1)"}],"mark":{"type":"area","color":"#d9d9d9","clip":true},"encoding":{"x":{"field":"h","type":"quantitative"},"y":{"field":"a1","type":"quantitative"},"y2":{"field":"a2"}}},
 {"transform":[{"filter":"isValid(datum.d1)"}],"mark":{"type":"area","color":"#a9a9a9","clip":true},"encoding":{"x":{"field":"h","type":"quantitative"},"y":{"field":"d1","type":"quantitative"},"y2":{"field":"d2"}}},
 {"mark":{"type":"rule","color":"black","strokeWidth":1.5},"encoding":{"y":{"datum":0,"type":"quantitative"}}},
 {"transform":[{"fold":["LP","BVAR","BLP"],"as":["s","v"]}],"mark":{"type":"line","strokeWidth":2.5,"clip":true},"encoding":{
  "x":{"field":"h","type":"quantitative","scale":{"domain":[0,24],"nice":false},"axis":{"values":[0,6,12,18,24],"tickCount":10,"title":null,"labelOverlap":false}},
  "y":{"field":"v","type":"quantitative","scale":{"domain":[-0.63,0.47],"nice":false,"zero":false},"axis":{"values":[-0.6,-0.4,-0.2,0,0.2,0.4],"tickCount":10,"format":"~g","labelOverlap":false,"title":null}},
  "color":{"field":"s","type":"nominal","scale":{"domain":["LP","BVAR","BLP"],"range":["#ff6a13","#1a6fa3","#000080"]},"legend":null},
  "strokeDash":{"field":"s","type":"nominal","scale":{"domain":["LP","BVAR","BLP"],"range":[[8,4,2,4],[14,7],[1,0]]},"legend":null}}}
]},
{"width":204,"height":166,"title":"CPI All","transform":[{"filter":"datum.p==3"}],"layer":[
 {"transform":[{"filter":"isValid(datum.a1)"}],"mark":{"type":"area","color":"#d9d9d9","clip":true},"encoding":{"x":{"field":"h","type":"quantitative"},"y":{"field":"a1","type":"quantitative"},"y2":{"field":"a2"}}},
 {"transform":[{"filter":"isValid(datum.d1)"}],"mark":{"type":"area","color":"#a9a9a9","clip":true},"encoding":{"x":{"field":"h","type":"quantitative"},"y":{"field":"d1","type":"quantitative"},"y2":{"field":"d2"}}},
 {"mark":{"type":"rule","color":"black","strokeWidth":1.5},"encoding":{"y":{"datum":0,"type":"quantitative"}}},
 {"transform":[{"fold":["LP","BVAR","BLP"],"as":["s","v"]}],"mark":{"type":"line","strokeWidth":2.5,"clip":true},"encoding":{
  "x":{"field":"h","type":"quantitative","scale":{"domain":[0,24],"nice":false},"axis":{"values":[0,6,12,18,24],"tickCount":10,"title":null,"labelOverlap":false}},
  "y":{"field":"v","type":"quantitative","scale":{"domain":[-0.91,0.87],"nice":false,"zero":false},"axis":{"values":[-0.5,0,0.5],"tickCount":10,"format":"~g","labelOverlap":false,"title":null}},
  "color":{"field":"s","type":"nominal","scale":{"domain":["LP","BVAR","BLP"],"range":["#ff6a13","#1a6fa3","#000080"]},"legend":null},
  "strokeDash":{"field":"s","type":"nominal","scale":{"domain":["LP","BVAR","BLP"],"range":[[8,4,2,4],[14,7],[1,0]]},"legend":null}}}
]},
{"width":204,"height":166,"title":"1Y T-Bond","transform":[{"filter":"datum.p==4"}],"layer":[
 {"transform":[{"filter":"isValid(datum.a1)"}],"mark":{"type":"area","color":"#d9d9d9","clip":true},"encoding":{"x":{"field":"h","type":"quantitative"},"y":{"field":"a1","type":"quantitative"},"y2":{"field":"a2"}}},
 {"transform":[{"filter":"isValid(datum.d1)"}],"mark":{"type":"area","color":"#a9a9a9","clip":true},"encoding":{"x":{"field":"h","type":"quantitative"},"y":{"field":"d1","type":"quantitative"},"y2":{"field":"d2"}}},
 {"mark":{"type":"rule","color":"black","strokeWidth":1.5},"encoding":{"y":{"datum":0,"type":"quantitative"}}},
 {"transform":[{"fold":["LP","BVAR","BLP"],"as":["s","v"]}],"mark":{"type":"line","strokeWidth":2.5,"clip":true},"encoding":{
  "x":{"field":"h","type":"quantitative","scale":{"domain":[0,24],"nice":false},"axis":{"values":[0,6,12,18,24],"tickCount":10,"title":null,"labelOverlap":false}},
  "y":{"field":"v","type":"quantitative","scale":{"domain":[-0.56,1.58],"nice":false,"zero":false},"axis":{"values":[-0.5,0,0.5,1,1.5],"tickCount":10,"format":"~g","labelOverlap":false,"title":null}},
  "color":{"field":"s","type":"nominal","scale":{"domain":["LP","BVAR","BLP"],"range":["#ff6a13","#1a6fa3","#000080"]},"legend":null},
  "strokeDash":{"field":"s","type":"nominal","scale":{"domain":["LP","BVAR","BLP"],"range":[[8,4,2,4],[14,7],[1,0]]},"legend":null}}}
]},
{"width":204,"height":166,"title":"Industrial Production","transform":[{"filter":"datum.p==5"}],"layer":[
 {"transform":[{"filter":"isValid(datum.a1)"}],"mark":{"type":"area","color":"#d9d9d9","clip":true},"encoding":{"x":{"field":"h","type":"quantitative"},"y":{"field":"a1","type":"quantitative"},"y2":{"field":"a2"}}},
 {"transform":[{"filter":"isValid(datum.d1)"}],"mark":{"type":"area","color":"#a9a9a9","clip":true},"encoding":{"x":{"field":"h","type":"quantitative"},"y":{"field":"d1","type":"quantitative"},"y2":{"field":"d2"}}},
 {"mark":{"type":"rule","color":"black","strokeWidth":1.5},"encoding":{"y":{"datum":0,"type":"quantitative"}}},
 {"transform":[{"fold":["LP","BVAR","BLP"],"as":["s","v"]}],"mark":{"type":"line","strokeWidth":2.5,"clip":true},"encoding":{
  "x":{"field":"h","type":"quantitative","scale":{"domain":[0,24],"nice":false},"axis":{"values":[0,6,12,18,24],"tickCount":10,"title":null,"labelOverlap":false}},
  "y":{"field":"v","type":"quantitative","scale":{"domain":[-1.3,0.78],"nice":false,"zero":false},"axis":{"values":[-1,-0.5,0,0.5],"tickCount":10,"format":"~g","labelOverlap":false,"title":null}},
  "color":{"field":"s","type":"nominal","scale":{"domain":["LP","BVAR","BLP"],"range":["#ff6a13","#1a6fa3","#000080"]},"legend":null},
  "strokeDash":{"field":"s","type":"nominal","scale":{"domain":["LP","BVAR","BLP"],"range":[[8,4,2,4],[14,7],[1,0]]},"legend":null}}}
]},
{"width":204,"height":166,"title":{"text":"Unemployment Rate","dy":8},"transform":[{"filter":"datum.p==6"}],"layer":[
 {"transform":[{"filter":"isValid(datum.a1)"}],"mark":{"type":"area","color":"#d9d9d9","clip":true},"encoding":{"x":{"field":"h","type":"quantitative"},"y":{"field":"a1","type":"quantitative"},"y2":{"field":"a2"}}},
 {"transform":[{"filter":"isValid(datum.d1)"}],"mark":{"type":"area","color":"#a9a9a9","clip":true},"encoding":{"x":{"field":"h","type":"quantitative"},"y":{"field":"d1","type":"quantitative"},"y2":{"field":"d2"}}},
 {"mark":{"type":"rule","color":"black","strokeWidth":1.5},"encoding":{"y":{"datum":0,"type":"quantitative"}}},
 {"transform":[{"fold":["LP","BVAR","BLP"],"as":["s","v"]}],"mark":{"type":"line","strokeWidth":2.5,"clip":true},"encoding":{
  "x":{"field":"h","type":"quantitative","scale":{"domain":[0,24],"nice":false},"axis":{"values":[0,6,12,18,24],"tickCount":10,"title":null,"labelOverlap":false}},
  "y":{"field":"v","type":"quantitative","scale":{"domain":[-0.27,0.203],"nice":false,"zero":false},"axis":{"values":[-0.2,-0.1,0,0.1,0.2],"tickCount":10,"format":"~g","labelOverlap":false,"title":null}},
  "color":{"field":"s","type":"nominal","scale":{"domain":["LP","BVAR","BLP"],"range":["#ff6a13","#1a6fa3","#000080"]},"legend":null},
  "strokeDash":{"field":"s","type":"nominal","scale":{"domain":["LP","BVAR","BLP"],"range":[[8,4,2,4],[14,7],[1,0]]},"legend":null}}}
]},
{"width":204,"height":166,"title":"CPI All","transform":[{"filter":"datum.p==7"}],"layer":[
 {"transform":[{"filter":"isValid(datum.a1)"}],"mark":{"type":"area","color":"#d9d9d9","clip":true},"encoding":{"x":{"field":"h","type":"quantitative"},"y":{"field":"a1","type":"quantitative"},"y2":{"field":"a2"}}},
 {"transform":[{"filter":"isValid(datum.d1)"}],"mark":{"type":"area","color":"#a9a9a9","clip":true},"encoding":{"x":{"field":"h","type":"quantitative"},"y":{"field":"d1","type":"quantitative"},"y2":{"field":"d2"}}},
 {"mark":{"type":"rule","color":"black","strokeWidth":1.5},"encoding":{"y":{"datum":0,"type":"quantitative"}}},
 {"transform":[{"fold":["LP","BVAR","BLP"],"as":["s","v"]}],"mark":{"type":"line","strokeWidth":2.5,"clip":true},"encoding":{
  "x":{"field":"h","type":"quantitative","scale":{"domain":[0,24],"nice":false},"axis":{"values":[0,6,12,18,24],"tickCount":10,"title":null,"labelOverlap":false}},
  "y":{"field":"v","type":"quantitative","scale":{"domain":[-0.6,0.38],"nice":false,"zero":false},"axis":{"values":[-0.6,-0.4,-0.2,0,0.2],"tickCount":10,"format":"~g","labelOverlap":false,"title":null}},
  "color":{"field":"s","type":"nominal","scale":{"domain":["LP","BVAR","BLP"],"range":["#ff6a13","#1a6fa3","#000080"]},"legend":null},
  "strokeDash":{"field":"s","type":"nominal","scale":{"domain":["LP","BVAR","BLP"],"range":[[8,4,2,4],[14,7],[1,0]]},"legend":null}}}
]},
{"width":204,"height":166,"title":"1Y T-Bond","transform":[{"filter":"datum.p==8"}],"layer":[
 {"transform":[{"filter":"isValid(datum.a1)"}],"mark":{"type":"area","color":"#d9d9d9","clip":true},"encoding":{"x":{"field":"h","type":"quantitative"},"y":{"field":"a1","type":"quantitative"},"y2":{"field":"a2"}}},
 {"transform":[{"filter":"isValid(datum.d1)"}],"mark":{"type":"area","color":"#a9a9a9","clip":true},"encoding":{"x":{"field":"h","type":"quantitative"},"y":{"field":"d1","type":"quantitative"},"y2":{"field":"d2"}}},
 {"mark":{"type":"rule","color":"black","strokeWidth":1.5},"encoding":{"y":{"datum":0,"type":"quantitative"}}},
 {"transform":[{"fold":["LP","BVAR","BLP"],"as":["s","v"]}],"mark":{"type":"line","strokeWidth":2.5,"clip":true},"encoding":{
  "x":{"field":"h","type":"quantitative","scale":{"domain":[0,24],"nice":false},"axis":{"values":[0,6,12,18,24],"tickCount":10,"title":null,"labelOverlap":false}},
  "y":{"field":"v","type":"quantitative","scale":{"domain":[-0.25,1.12],"nice":false,"zero":false},"axis":{"values":[0,0.5,1],"tickCount":10,"format":"~g","labelOverlap":false,"title":null}},
  "color":{"field":"s","type":"nominal","scale":{"domain":["LP","BVAR","BLP"],"range":["#ff6a13","#1a6fa3","#000080"]},"legend":null},
  "strokeDash":{"field":"s","type":"nominal","scale":{"domain":["LP","BVAR","BLP"],"range":[[8,4,2,4],[14,7],[1,0]]},"legend":null}}}
]},
{"width":204,"height":166,"title":"Industrial Production","transform":[{"filter":"datum.p==9"}],"layer":[
 {"transform":[{"filter":"isValid(datum.a1)"}],"mark":{"type":"area","color":"#d9d9d9","clip":true},"encoding":{"x":{"field":"h","type":"quantitative"},"y":{"field":"a1","type":"quantitative"},"y2":{"field":"a2"}}},
 {"transform":[{"filter":"isValid(datum.d1)"}],"mark":{"type":"area","color":"#a9a9a9","clip":true},"encoding":{"x":{"field":"h","type":"quantitative"},"y":{"field":"d1","type":"quantitative"},"y2":{"field":"d2"}}},
 {"mark":{"type":"rule","color":"black","strokeWidth":1.5},"encoding":{"y":{"datum":0,"type":"quantitative"}}},
 {"transform":[{"fold":["LP","BVAR","BLP"],"as":["s","v"]}],"mark":{"type":"line","strokeWidth":2.5,"clip":true},"encoding":{
  "x":{"field":"h","type":"quantitative","scale":{"domain":[0,24],"nice":false},"axis":{"values":[0,6,12,18,24],"tickCount":10,"title":null,"labelOverlap":false}},
  "y":{"field":"v","type":"quantitative","scale":{"domain":[-2.24,1.49],"nice":false,"zero":false},"axis":{"values":[-2,-1,0,1],"tickCount":10,"format":"~g","labelOverlap":false,"title":null}},
  "color":{"field":"s","type":"nominal","scale":{"domain":["LP","BVAR","BLP"],"range":["#ff6a13","#1a6fa3","#000080"]},"legend":null},
  "strokeDash":{"field":"s","type":"nominal","scale":{"domain":["LP","BVAR","BLP"],"range":[[8,4,2,4],[14,7],[1,0]]},"legend":null}}}
]},
{"width":204,"height":166,"title":"Unemployment Rate","transform":[{"filter":"datum.p==10"}],"layer":[
 {"transform":[{"filter":"isValid(datum.a1)"}],"mark":{"type":"area","color":"#d9d9d9","clip":true},"encoding":{"x":{"field":"h","type":"quantitative"},"y":{"field":"a1","type":"quantitative"},"y2":{"field":"a2"}}},
 {"transform":[{"filter":"isValid(datum.d1)"}],"mark":{"type":"area","color":"#a9a9a9","clip":true},"encoding":{"x":{"field":"h","type":"quantitative"},"y":{"field":"d1","type":"quantitative"},"y2":{"field":"d2"}}},
 {"mark":{"type":"rule","color":"black","strokeWidth":1.5},"encoding":{"y":{"datum":0,"type":"quantitative"}}},
 {"transform":[{"fold":["LP","BVAR","BLP"],"as":["s","v"]}],"mark":{"type":"line","strokeWidth":2.5,"clip":true},"encoding":{
  "x":{"field":"h","type":"quantitative","scale":{"domain":[0,24],"nice":false},"axis":{"values":[0,6,12,18,24],"tickCount":10,"title":null,"labelOverlap":false}},
  "y":{"field":"v","type":"quantitative","scale":{"domain":[-0.445,0.37],"nice":false,"zero":false},"axis":{"values":[-0.4,-0.2,0,0.2],"tickCount":10,"format":"~g","labelOverlap":false,"title":null}},
  "color":{"field":"s","type":"nominal","scale":{"domain":["LP","BVAR","BLP"],"range":["#ff6a13","#1a6fa3","#000080"]},"legend":null},
  "strokeDash":{"field":"s","type":"nominal","scale":{"domain":["LP","BVAR","BLP"],"range":[[8,4,2,4],[14,7],[1,0]]},"legend":null}}}
]},
{"width":204,"height":166,"title":"CPI All","transform":[{"filter":"datum.p==11"}],"layer":[
 {"transform":[{"filter":"isValid(datum.a1)"}],"mark":{"type":"area","color":"#d9d9d9","clip":true},"encoding":{"x":{"field":"h","type":"quantitative"},"y":{"field":"a1","type":"quantitative"},"y2":{"field":"a2"}}},
 {"transform":[{"filter":"isValid(datum.d1)"}],"mark":{"type":"area","color":"#a9a9a9","clip":true},"encoding":{"x":{"field":"h","type":"quantitative"},"y":{"field":"d1","type":"quantitative"},"y2":{"field":"d2"}}},
 {"mark":{"type":"rule","color":"black","strokeWidth":1.5},"encoding":{"y":{"datum":0,"type":"quantitative"}}},
 {"transform":[{"fold":["LP","BVAR","BLP"],"as":["s","v"]}],"mark":{"type":"line","strokeWidth":2.5,"clip":true},"encoding":{
  "x":{"field":"h","type":"quantitative","scale":{"domain":[0,24],"nice":false},"axis":{"values":[0,6,12,18,24],"tickCount":10,"title":null,"labelOverlap":false}},
  "y":{"field":"v","type":"quantitative","scale":{"domain":[-0.81,0.71],"nice":false,"zero":false},"axis":{"values":[-0.5,0,0.5],"tickCount":10,"format":"~g","labelOverlap":false,"title":null}},
  "color":{"field":"s","type":"nominal","scale":{"domain":["LP","BVAR","BLP"],"range":["#ff6a13","#1a6fa3","#000080"]},"legend":null},
  "strokeDash":{"field":"s","type":"nominal","scale":{"domain":["LP","BVAR","BLP"],"range":[[8,4,2,4],[14,7],[1,0]]},"legend":null}}}
]},
{"width":204,"height":166,"title":"1Y T-Bond","transform":[{"filter":"datum.p==12"}],"layer":[
 {"transform":[{"filter":"isValid(datum.a1)"}],"mark":{"type":"area","color":"#d9d9d9","clip":true},"encoding":{"x":{"field":"h","type":"quantitative"},"y":{"field":"a1","type":"quantitative"},"y2":{"field":"a2"}}},
 {"transform":[{"filter":"isValid(datum.d1)"}],"mark":{"type":"area","color":"#a9a9a9","clip":true},"encoding":{"x":{"field":"h","type":"quantitative"},"y":{"field":"d1","type":"quantitative"},"y2":{"field":"d2"}}},
 {"mark":{"type":"rule","color":"black","strokeWidth":1.5},"encoding":{"y":{"datum":0,"type":"quantitative"}}},
 {"transform":[{"fold":["LP","BVAR","BLP"],"as":["s","v"]}],"mark":{"type":"line","strokeWidth":2.5,"clip":true},"encoding":{
  "x":{"field":"h","type":"quantitative","scale":{"domain":[0,24],"nice":false},"axis":{"values":[0,6,12,18,24],"tickCount":10,"labelOverlap":false,"title":"horizon","titleFontSize":21,"titlePadding":0,"titleColor":"#262626"}},
  "y":{"field":"v","type":"quantitative","scale":{"domain":[-0.61,1.22],"nice":false,"zero":false},"axis":{"values":[-0.5,0,0.5,1],"tickCount":10,"format":"~g","labelOverlap":false,"title":null}},
  "color":{"field":"s","type":"nominal","scale":{"domain":["LP","BVAR","BLP"],"range":["#ff6a13","#1a6fa3","#000080"]},"legend":{"title":null,"orient":"none","legendX":18,"legendY":90,"direction":"vertical","columns":1,"clipHeight":17,"fillColor":"white","strokeColor":"black","padding":4,"symbolType":"M-0.2,0H7.8","symbolSize":256,"symbolStrokeWidth":2.5,"labelFontSize":16,"labelColor":"black","labelAlign":"left","rowPadding":0,"labelOffset":66,"labelExpr":"datum.label + '(12)'"}},
  "strokeDash":{"field":"s","type":"nominal","scale":{"domain":["LP","BVAR","BLP"],"range":[[8,4,2,4],[14,7],[1,0]]},"legend":{"title":null,"orient":"none","legendX":18,"legendY":90,"direction":"vertical","columns":1,"clipHeight":17,"fillColor":"white","strokeColor":"black","padding":4,"symbolType":"M-0.2,0H7.8","symbolSize":256,"symbolStrokeWidth":2.5,"labelFontSize":16,"labelColor":"black","labelAlign":"left","rowPadding":0,"labelOffset":66,"labelExpr":"datum.label + '(12)'"}}}}
]}
]
}
